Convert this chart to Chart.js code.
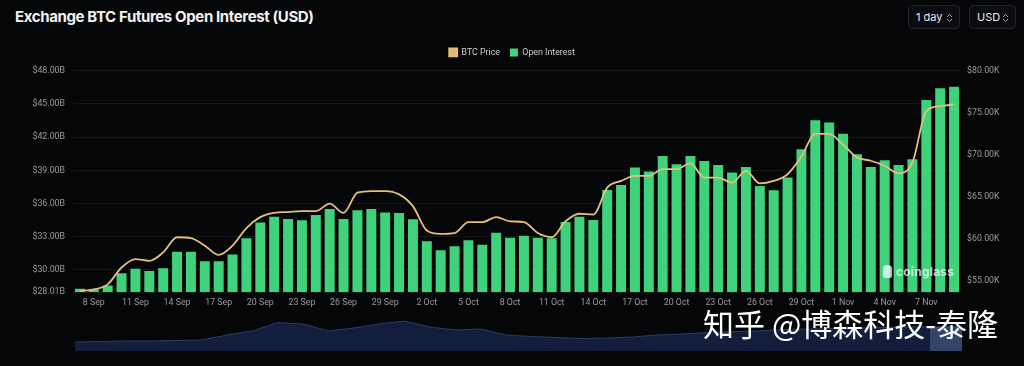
<!DOCTYPE html>
<html>
<head>
<meta charset="utf-8">
<script src="https://cdn.jsdelivr.net/npm/chart.js@4.4.0/dist/chart.umd.min.js"></script>
<style>
  html, body { margin: 0; padding: 0; background: #050608; }
  body { width: 1024px; height: 366px; position: relative; overflow: hidden; font-family: Inter, Roboto, sans-serif; }
  #title { position: absolute; left: 15px; top: 7px; color: #f2f2f2; font-size: 15px; font-weight: 700; letter-spacing: -0.38px; }
  .btn { position: absolute; top: 5px; height: 24px; border: 1px solid #222328; border-radius: 4px; background: #0b0c10;
         color: #e8e8e8; font-size: 11px; line-height: 23px; padding-left: 7px; box-sizing: border-box; }
  .btn svg { position: absolute; top: 7px; right: 6px; }
  #main { position: absolute; left: 0; top: 38px; }
  #nav { position: absolute; left: 75px; top: 316px; }
  #navSel { position: absolute; left: 930px; top: 327px; width: 32px; height: 24px; background: rgba(95, 115, 165, 0.45); }
  #cg { position: absolute; left: 883px; top: 264px; color: rgba(255,255,255,0.72); font-size: 12px; font-weight: 700; letter-spacing: 0.2px; }
  #cg span { display: inline-block; width: 9px; height: 13px; background: rgba(255,255,255,0.75); border-radius: 4px 4px 2px 2px; vertical-align: -2px; margin-right: 4px; }
  #wm { position: absolute; left: 703px; top: 300px; color: #ffffff; font-family: "Noto Sans CJK SC", sans-serif; font-size: 31px; white-space: nowrap; }
</style>
</head>
<body>
<div id="title">Exchange BTC Futures Open Interest (USD)</div>
<div class="btn" style="left:908px;width:52px;">1 day<svg width="7" height="10"><path d="M1 4 L3.5 1.5 L6 4 M1 6 L3.5 8.5 L6 6" stroke="#aaa" fill="none" stroke-width="1"/></svg></div>
<div class="btn" style="left:969px;width:47px;">USD<svg width="7" height="10"><path d="M1 4 L3.5 1.5 L6 4 M1 6 L3.5 8.5 L6 6" stroke="#aaa" fill="none" stroke-width="1"/></svg></div>
<canvas id="main" width="1024" height="275"></canvas>
<div id="cg"><span></span>coinglass</div>
<canvas id="nav" width="887" height="35"></canvas>
<div id="navSel"></div>
<div id="wm">知乎 @博森科技-泰隆</div>
<script>
// daily labels, 7 Sep - 9 Nov
const dates = [
  '7 Sep','8 Sep','9 Sep','10 Sep','11 Sep','12 Sep','13 Sep','14 Sep','15 Sep','16 Sep','17 Sep','18 Sep',
  '19 Sep','20 Sep','21 Sep','22 Sep','23 Sep','24 Sep','25 Sep','26 Sep','27 Sep','28 Sep','29 Sep','30 Sep',
  '1 Oct','2 Oct','3 Oct','4 Oct','5 Oct','6 Oct','7 Oct','8 Oct','9 Oct','10 Oct','11 Oct','12 Oct','13 Oct',
  '14 Oct','15 Oct','16 Oct','17 Oct','18 Oct','19 Oct','20 Oct','21 Oct','22 Oct','23 Oct','24 Oct','25 Oct',
  '26 Oct','27 Oct','28 Oct','29 Oct','30 Oct','31 Oct',
  '1 Nov','2 Nov','3 Nov','4 Nov','5 Nov','6 Nov','7 Nov','8 Nov','9 Nov'
];

// open interest, billions USD
const openInterest = [
  28.30, 28.25, 28.60, 29.70, 30.10, 29.90, 30.15, 31.65, 31.65, 30.80, 30.80, 31.40,
  32.86, 34.30, 34.80, 34.60, 34.50, 34.97, 35.50, 34.60, 35.40, 35.50, 35.20, 35.15,
  34.58, 32.60, 31.78, 32.14, 32.68, 32.29, 33.37, 32.92, 33.10, 32.92, 32.86, 34.34, 34.82,
  34.52, 37.23, 37.68, 39.25, 38.89, 40.31, 39.55, 40.31, 39.85, 39.49, 38.80, 39.31,
  37.60, 37.20, 38.35, 40.91, 43.53, 43.32,
  42.32, 40.46, 39.31, 39.91, 39.49, 40.01, 45.37, 46.43, 46.55
];

// BTC price, thousands USD
const btcPrice = [
  53.8, 54.0, 54.6, 56.6, 57.6, 57.4, 58.4, 60.2, 60.1, 59.2, 58.1, 59.2,
  61.3, 62.6, 63.1, 63.2, 63.3, 63.3, 64.2, 63.1, 65.5, 65.7, 65.7, 65.3,
  63.9, 61.0, 60.6, 60.7, 62.0, 62.0, 62.6, 62.1, 62.0, 60.7, 60.2, 62.1, 63.0,
  62.9, 66.1, 66.9, 67.5, 67.5, 68.3, 68.3, 69.0, 67.3, 67.3, 66.7, 68.1,
  66.6, 66.9, 67.7, 69.8, 72.5, 72.5,
  71.2, 69.7, 69.3, 68.7, 67.8, 69.1, 75.2, 75.8, 76.0
];

const oiTicks = [28.01, 30, 33, 36, 39, 42, 45, 48];
const priceTicks = [55, 60, 65, 70, 75, 80];

// overview strip (longer history), relative height
const navHistory = [
  9, 9.5, 10, 10, 10.5, 11, 16, 20, 28.5, 27, 20, 23, 27, 30, 24, 21, 22, 16,
  14.5, 13.5, 12.5, 13, 14, 16, 17, 18.5, 19.5, 20, 21.5, 22, 22.5, 23, 23.5, 24, 24, 25
];

const tickFont = { family: 'Roboto', size: 8.8 };
const tickColor = '#9a9a9a';

// a bit more room between legend and plot
const legendSpacing = {
    id: 'legendSpacing',
    beforeInit(chart) {
        const fit = chart.legend.fit;
        chart.legend.fit = function() {
            fit.bind(chart.legend)();
            this.height += 4;
        };
    }
};

function plot_open_interest(chart_id){
    const ctx = document.getElementById(chart_id).getContext('2d');
    const chart = new Chart(ctx, {
        type: 'bar',
        data: {
            labels: dates,
            datasets: [
                {
                    type: 'line',
                    label: 'BTC Price',
                    data: btcPrice,
                    yAxisID: 'yPrice',
                    borderColor: '#e3c07c',
                    backgroundColor: '#e3b868',
                    borderWidth: 1.8,
                    pointRadius: 0,
                    tension: 0.4,
                    cubicInterpolationMode: 'monotone',
                    order: 0
                },
                {
                    label: 'Open Interest',
                    data: openInterest,
                    yAxisID: 'yOI',
                    backgroundColor: '#3fd27b',
                    borderWidth: 0,
                    categoryPercentage: 1,
                    barPercentage: 0.72,
                    order: 1
                }
            ]
        },
        options: {
            responsive: false,
            animation: false,
            layout: { padding: 0 },
            plugins: {
                legend: {
                    position: 'top',
                    labels: {
                        color: '#cfcfcf',
                        font: { family: 'Roboto', size: 8.8 },
                        boxWidth: 8,
                        boxHeight: 8,
                        padding: 10
                    }
                },
                tooltip: { enabled: false }
            },
            scales: {
                x: {
                    afterFit: axis => { axis.height = 21; },
                    grid: { display: false, drawTicks: false },
                    border: { display: false },
                    ticks: {
                        color: tickColor,
                        font: tickFont,
                        autoSkip: false,
                        maxRotation: 0,
                        padding: 6,
                        callback: function(value, index) {
                            return (index - 1) % 3 === 0 ? dates[index] : '';
                        }
                    }
                },
                yOI: {
                    position: 'left',
                    min: 28.01,
                    max: 48,
                    afterBuildTicks: axis => { axis.ticks = oiTicks.map(v => ({ value: v })); },
                    afterFit: axis => { axis.width = 73; },
                    grid: { color: 'rgba(255,255,255,0.07)', drawTicks: false },
                    border: { display: false },
                    ticks: {
                        color: tickColor,
                        font: tickFont,
                        padding: 8,
                        callback: v => '$' + v.toFixed(2) + 'B'
                    }
                },
                yPrice: {
                    position: 'right',
                    min: 53.69,
                    max: 80,
                    afterBuildTicks: axis => { axis.ticks = priceTicks.map(v => ({ value: v })); },
                    afterFit: axis => { axis.width = 63; },
                    grid: { display: false, drawTicks: false },
                    border: { display: false },
                    ticks: {
                        color: tickColor,
                        font: tickFont,
                        padding: 6,
                        callback: v => '$' + v.toFixed(2) + 'K'
                    }
                }
            }
        },
        plugins: [legendSpacing]
    });
    return chart;
}

function plot_overview(chart_id){
    const ctx = document.getElementById(chart_id).getContext('2d');
    const chart = new Chart(ctx, {
        type: 'line',
        data: {
            labels: navHistory.map((v, i) => i),
            datasets: [{
                data: navHistory,
                fill: true,
                borderColor: '#2c3d6b',
                backgroundColor: '#131e3d',
                borderWidth: 1,
                pointRadius: 0,
                tension: 0
            }]
        },
        options: {
            responsive: false,
            animation: false,
            plugins: { legend: { display: false }, tooltip: { enabled: false } },
            scales: {
                x: { display: false, offset: false },
                y: { display: false, min: 0, max: 35 }
            }
        }
    });
    return chart;
}

plot_open_interest('main');
plot_overview('nav');
</script>
</body>
</html>
